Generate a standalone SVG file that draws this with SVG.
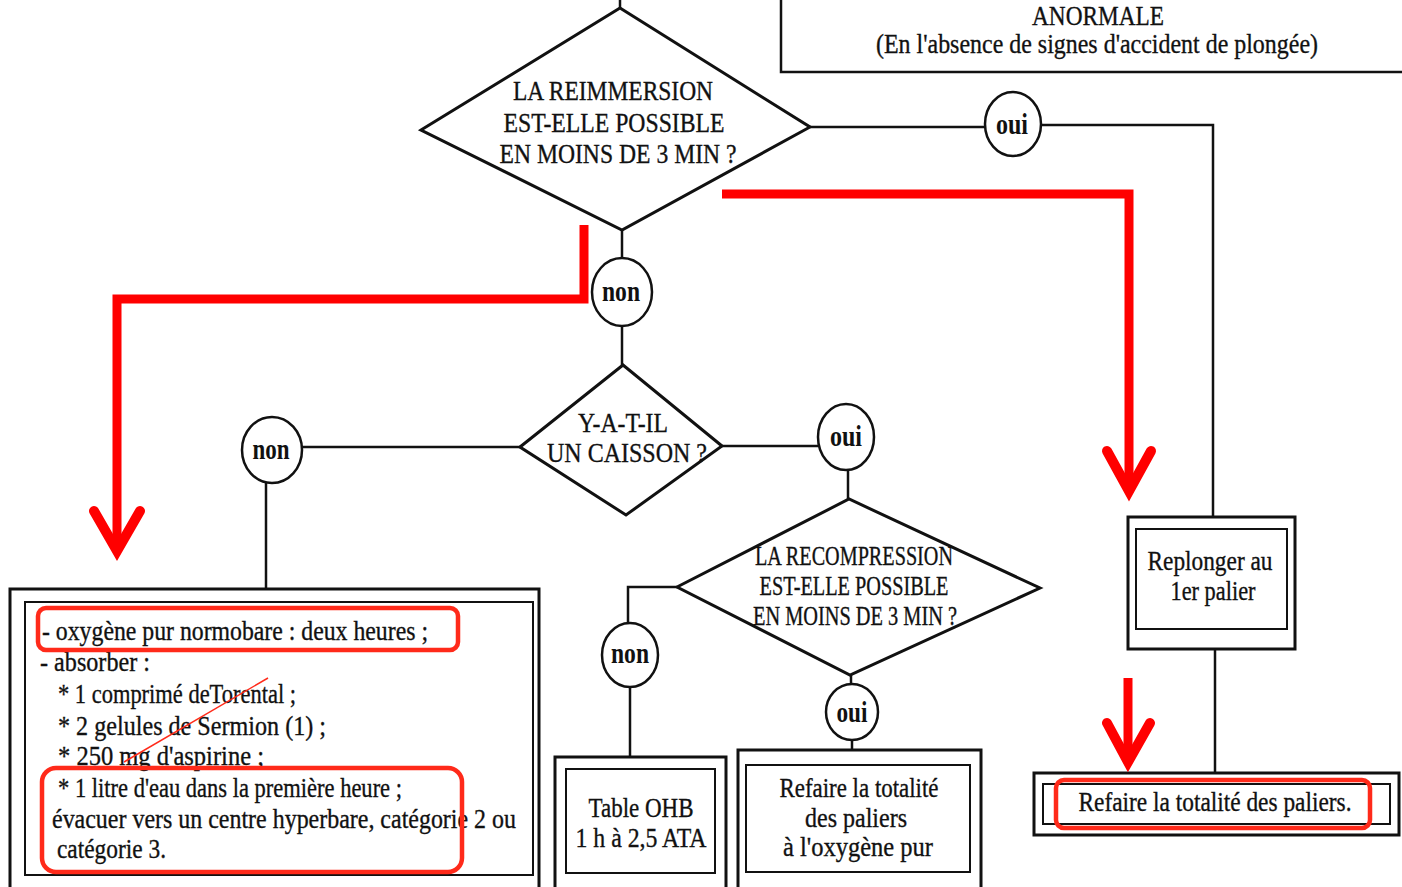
<svg xmlns="http://www.w3.org/2000/svg" width="1402" height="887" viewBox="0 0 1402 887">
<style>
.ln{fill:none;stroke:#111;stroke-width:2.5}
.bx{fill:#fff;stroke:#111;stroke-width:3}
.bi{fill:none;stroke:#111;stroke-width:2}
.dm{fill:#fff;stroke:#111;stroke-width:3;stroke-linejoin:miter}
.cc{fill:#fff;stroke:#111;stroke-width:2.5}
.t{font-family:"Liberation Serif","Times New Roman",serif;font-size:28px;fill:#111;stroke:#111;stroke-width:0.35}
.tc{font-family:"Liberation Serif","Times New Roman",serif;font-size:28px;fill:#111;stroke:#111;stroke-width:0.35;text-anchor:start}
.b{font-family:"Liberation Serif","Times New Roman",serif;font-size:30px;font-weight:bold;fill:#111}
.red{fill:none;stroke:#ff0000;stroke-width:9}
.rh{fill:none;stroke:#ff0000;stroke-width:10;stroke-linecap:round;stroke-linejoin:miter}
.hl{fill:none;stroke:#ff2a1a;stroke-width:4.5}
</style>

<g id="connectors">
  <path class="ln" d="M620,0 V8"/>
  <path class="ln" d="M810,127 H985"/>
  <path class="ln" d="M1041,125 H1213 V517"/>
  <path class="ln" d="M1215,650 V773"/>
  <path class="ln" d="M622,230 V258"/>
  <path class="ln" d="M622,326 V365"/>
  <path class="ln" d="M520,447 H302"/>
  <path class="ln" d="M266,483 V588"/>
  <path class="ln" d="M722,446 H818"/>
  <path class="ln" d="M848,470 V500"/>
  <path class="ln" d="M677,587 H628 V623"/>
  <path class="ln" d="M630,687 V757"/>
  <path class="ln" d="M851,675 V684"/>
  <path class="ln" d="M852,740 V750"/>
</g>

<g id="header">
  <path class="ln" d="M781,0 V72 H1402"/>
  <text class="t" x="1098" y="25" font-size="27" text-anchor="middle" textLength="132" lengthAdjust="spacingAndGlyphs">ANORMALE</text>
  <text class="t" x="1097" y="53" text-anchor="middle" textLength="442" lengthAdjust="spacingAndGlyphs">(En l'absence de signes d'accident de plongée)</text>
</g>

<g id="d1">
  <polygon class="dm" points="421,130 620,8 810,127 622,230"/>
  <text class="t" x="613" y="100" text-anchor="middle" textLength="200" lengthAdjust="spacingAndGlyphs">LA REIMMERSION</text>
  <text class="t" x="614" y="132" text-anchor="middle" textLength="221" lengthAdjust="spacingAndGlyphs">EST-ELLE POSSIBLE</text>
  <text class="t" x="618" y="163" text-anchor="middle" textLength="237" lengthAdjust="spacingAndGlyphs">EN MOINS DE 3 MIN ?</text>
</g>

<g id="oui1">
  <ellipse class="cc" cx="1013" cy="124" rx="28" ry="32"/>
  <text class="b" x="1012" y="134" text-anchor="middle" textLength="32" lengthAdjust="spacingAndGlyphs">oui</text>
</g>

<g id="non1">
  <ellipse class="cc" cx="622" cy="292" rx="30" ry="34"/>
  <text class="b" x="621" y="301" text-anchor="middle" textLength="38" lengthAdjust="spacingAndGlyphs">non</text>
</g>

<g id="d2">
  <polygon class="dm" points="520,447 623,365 722,446 626,515"/>
  <text class="t" x="623" y="432" text-anchor="middle" textLength="90" lengthAdjust="spacingAndGlyphs">Y-A-T-IL</text>
  <text class="t" x="627" y="462" text-anchor="middle" textLength="160" lengthAdjust="spacingAndGlyphs">UN CAISSON ?</text>
</g>

<g id="non2">
  <ellipse class="cc" cx="272" cy="450" rx="30" ry="33"/>
  <text class="b" x="271" y="459" text-anchor="middle" textLength="37" lengthAdjust="spacingAndGlyphs">non</text>
</g>

<g id="oui2">
  <ellipse class="cc" cx="846" cy="437" rx="28" ry="33"/>
  <text class="b" x="846" y="446" text-anchor="middle" textLength="32" lengthAdjust="spacingAndGlyphs">oui</text>
</g>

<g id="d3">
  <polygon class="dm" points="677,587 849,499 1040,588 850,675"/>
  <text class="t" x="854" y="565" text-anchor="middle" font-size="26" textLength="198" lengthAdjust="spacingAndGlyphs">LA RECOMPRESSION</text>
  <text class="t" x="854" y="595" text-anchor="middle" font-size="26" textLength="189" lengthAdjust="spacingAndGlyphs">EST-ELLE POSSIBLE</text>
  <text class="t" x="855" y="625" text-anchor="middle" font-size="26" textLength="204" lengthAdjust="spacingAndGlyphs">EN MOINS DE 3 MIN ?</text>
</g>

<g id="non3">
  <ellipse class="cc" cx="630" cy="655" rx="28" ry="32"/>
  <text class="b" x="630" y="663" text-anchor="middle" textLength="38" lengthAdjust="spacingAndGlyphs">non</text>
</g>

<g id="oui3">
  <ellipse class="cc" cx="852" cy="712" rx="26" ry="28"/>
  <text class="b" x="852" y="722" text-anchor="middle" textLength="31" lengthAdjust="spacingAndGlyphs">oui</text>
</g>

<g id="box-left">
  <rect class="bx" x="10" y="589" width="529" height="310"/>
  <rect class="bi" x="25" y="602" width="508" height="273"/>
  <text class="tc" x="42" y="640" textLength="386" lengthAdjust="spacingAndGlyphs">- oxygène pur normobare : deux heures ;</text>
  <text class="tc" x="40" y="671" textLength="110" lengthAdjust="spacingAndGlyphs">- absorber :</text>
  <text class="tc" x="58" y="703" textLength="238" lengthAdjust="spacingAndGlyphs">* 1 comprimé deTorental ;</text>
  <text class="tc" x="58" y="735" textLength="268" lengthAdjust="spacingAndGlyphs">* 2 gelules de Sermion (1) ;</text>
  <text class="tc" x="58" y="765" textLength="206" lengthAdjust="spacingAndGlyphs">* 250 mg d'aspirine ;</text>
  <text class="tc" x="58" y="797" textLength="344" lengthAdjust="spacingAndGlyphs">* 1 litre d'eau dans la première heure ;</text>
  <text class="tc" x="52" y="828" textLength="464" lengthAdjust="spacingAndGlyphs">évacuer vers un centre hyperbare, catégorie 2 ou</text>
  <text class="tc" x="57" y="858" textLength="109" lengthAdjust="spacingAndGlyphs">catégorie 3.</text>
</g>

<g id="box-ohb">
  <rect class="bx" x="555" y="757" width="171" height="140"/>
  <rect class="bi" x="566" y="769" width="149" height="104"/>
  <text class="t" x="641" y="817" text-anchor="middle" textLength="105" lengthAdjust="spacingAndGlyphs">Table OHB</text>
  <text class="t" x="641" y="847" text-anchor="middle" textLength="131" lengthAdjust="spacingAndGlyphs">1 h à 2,5 ATA</text>
</g>

<g id="box-o2">
  <rect class="bx" x="738" y="750" width="243" height="147"/>
  <rect class="bi" x="746" y="765" width="224" height="107"/>
  <text class="t" x="859" y="797" text-anchor="middle" textLength="159" lengthAdjust="spacingAndGlyphs">Refaire la totalité</text>
  <text class="t" x="856" y="827" text-anchor="middle" textLength="102" lengthAdjust="spacingAndGlyphs">des paliers</text>
  <text class="t" x="858" y="856" text-anchor="middle" textLength="150" lengthAdjust="spacingAndGlyphs">à l'oxygène pur</text>
</g>

<g id="box-replonger">
  <rect class="bx" x="1128" y="517" width="167" height="132"/>
  <rect class="bi" x="1136" y="529" width="151" height="100"/>
  <text class="t" x="1210" y="570" text-anchor="middle" textLength="125" lengthAdjust="spacingAndGlyphs">Replonger au</text>
  <text class="t" x="1213" y="600" text-anchor="middle" textLength="85" lengthAdjust="spacingAndGlyphs">1er palier</text>
</g>

<g id="box-paliers">
  <rect class="bx" x="1034" y="773" width="365" height="62"/>
  <rect class="bi" x="1043" y="784" width="347" height="40"/>
  <text class="t" x="1215" y="811" font-size="26" text-anchor="middle" textLength="273" lengthAdjust="spacingAndGlyphs">Refaire la totalité des paliers.</text>
</g>

<g id="annotations">
  <path class="red" d="M584,225 V299 H117 V548"/>
  <path class="rh" d="M94,511 L117,551 L140,511"/>
  <path class="red" d="M722,194 H1129 V488"/>
  <path class="rh" d="M1107,451 L1129,491 L1151,451"/>
  <path class="red" d="M1128,678 V760"/>
  <path class="rh" d="M1107,723 L1128,762 L1150,723"/>
  <rect class="hl" x="38" y="608" width="420" height="42" rx="8"/>
  <rect class="hl" x="42" y="768" width="420" height="104" rx="14"/>
  <rect class="hl" x="1056" y="780" width="314" height="48" rx="8"/>
  <path d="M124,762 L268,678" fill="none" stroke="#ff2a1a" stroke-width="1.5"/>
</g>
</svg>
